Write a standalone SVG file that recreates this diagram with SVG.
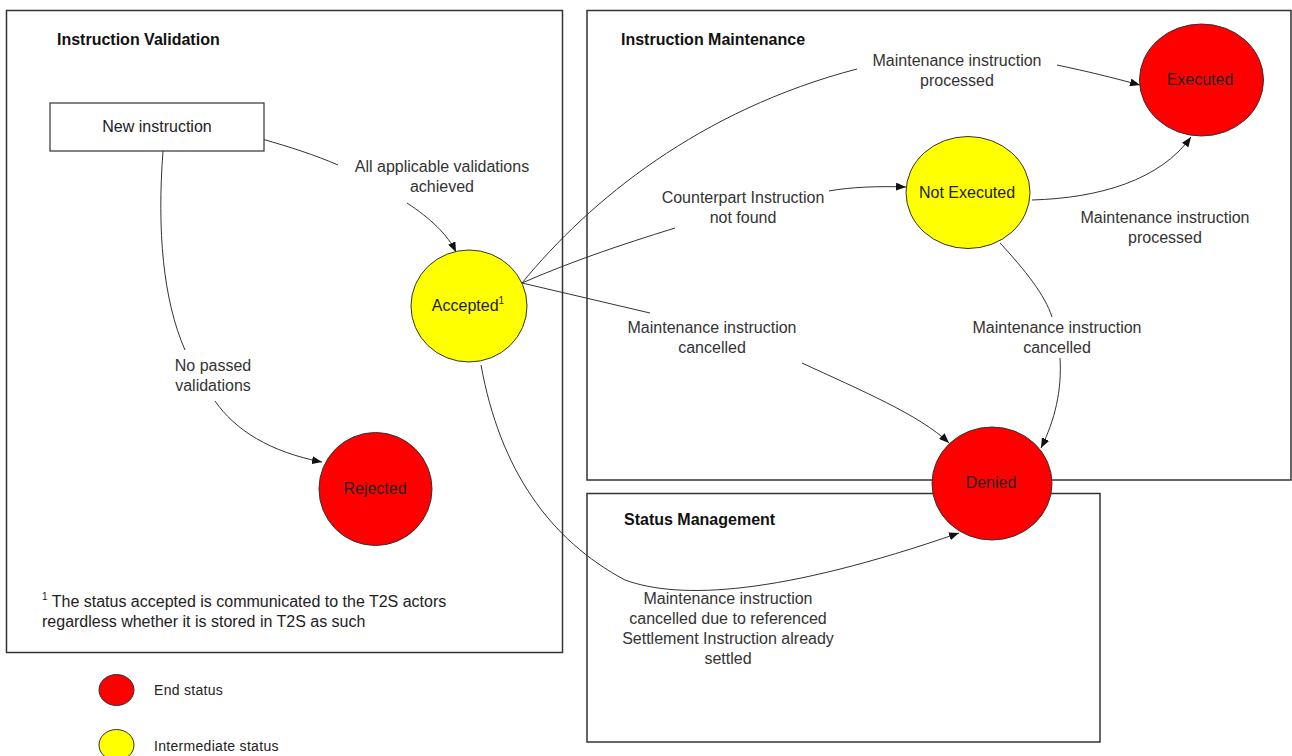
<svg xmlns="http://www.w3.org/2000/svg" width="1292" height="756" viewBox="0 0 1292 756">
<style>
.box{fill:#fff;stroke:#333;stroke-width:1.5}
.title{font-family:"Liberation Sans",Arial,sans-serif;font-size:16px;font-weight:bold;fill:#111}
.lbl{font-family:"Liberation Sans",Arial,sans-serif;font-size:16px;fill:#333;text-anchor:middle}
.ntext{font-family:"Liberation Sans",Arial,sans-serif;font-size:16px;fill:#222;text-anchor:middle}
.end{fill:#ff0000;stroke:#333;stroke-width:1}
.mid{fill:#ffff00;stroke:#333;stroke-width:1}
.rect{fill:#fff;stroke:#333;stroke-width:1.2}
.c{fill:none;stroke:#333;stroke-width:1}
.leg{font-family:"Liberation Sans",Arial,sans-serif;font-size:14px;fill:#222;letter-spacing:0.3px}
.foot{font-family:"Liberation Sans",Arial,sans-serif;font-size:16px;fill:#222}
</style>
<defs>
<marker id="arr" viewBox="0 0 10 8" refX="10" refY="4" markerWidth="10" markerHeight="8" markerUnits="userSpaceOnUse" orient="auto">
<path d="M0,0 L10,4 L0,8 z" fill="#111"/>
</marker>
</defs>

<g id="frame-validation">
<rect class="box" x="6.5" y="10.5" width="556" height="642"/>
<text class="title" x="57" y="45">Instruction Validation</text>
</g>
<g id="frame-maintenance">
<rect class="box" x="587" y="10.5" width="704" height="469.5"/>
<text class="title" x="621" y="45">Instruction Maintenance</text>
</g>
<g id="frame-status">
<rect class="box" x="587" y="493.5" width="513" height="248.5"/>
<text class="title" x="624" y="525">Status Management</text>
</g>

<g id="connectors">
<path class="c" d="M262,139 C290,147 315,155 338,165"/>
<path class="c" d="M407,203 C430,218 448,235 456,252" marker-end="url(#arr)"/>
<path class="c" d="M163,151 C157,230 163,300 185,350"/>
<path class="c" d="M215,401 C235,430 270,452 322,462" marker-end="url(#arr)"/>
<path class="c" d="M522,283 C590,200 700,110 857,69"/>
<path class="c" d="M1057,65 C1090,72 1110,77 1140,85" marker-end="url(#arr)"/>
<path class="c" d="M522,283 C570,262 620,245 675,228"/>
<path class="c" d="M829,191 C850,187 880,186 906,187" marker-end="url(#arr)"/>
<path class="c" d="M1032,200 C1100,198 1160,180 1191,137" marker-end="url(#arr)"/>
<path class="c" d="M522,283 L650,313"/>
<path class="c" d="M802,363 C860,390 920,415 949,443" marker-end="url(#arr)"/>
<path class="c" d="M1000,243 C1025,270 1045,295 1052,317"/>
<path class="c" d="M1060,358 C1062,390 1055,420 1041,448" marker-end="url(#arr)"/>
<path class="c" d="M481,365 C500,470 550,540 625,580 C680,600 780,595 959,533" marker-end="url(#arr)"/>
</g>

<g id="labels">
<text class="lbl" x="442" y="172">All applicable validations</text>
<text class="lbl" x="442" y="192">achieved</text>
<text class="lbl" x="213" y="370.5">No passed</text>
<text class="lbl" x="213" y="390.5">validations</text>
<text class="lbl" x="957" y="65.5">Maintenance instruction</text>
<text class="lbl" x="957" y="85.5">processed</text>
<text class="lbl" x="743" y="202.5">Counterpart Instruction</text>
<text class="lbl" x="743" y="222.5">not found</text>
<text class="lbl" x="1165" y="222.5">Maintenance instruction</text>
<text class="lbl" x="1165" y="242.5">processed</text>
<text class="lbl" x="712" y="333">Maintenance instruction</text>
<text class="lbl" x="712" y="353">cancelled</text>
<text class="lbl" x="1057" y="332.5">Maintenance instruction</text>
<text class="lbl" x="1057" y="352.5">cancelled</text>
<text class="lbl" x="728" y="603.5">Maintenance instruction</text>
<text class="lbl" x="728" y="623.5">cancelled due to referenced</text>
<text class="lbl" x="728" y="643.5">Settlement Instruction already</text>
<text class="lbl" x="728" y="663.5">settled</text>
</g>

<g id="node-new">
<rect class="rect" x="50" y="103" width="214" height="48"/>
<text class="ntext" x="157" y="131.5">New instruction</text>
</g>
<g id="node-accepted">
<ellipse class="mid" cx="469" cy="306" rx="58" ry="56"/>
<text class="ntext" x="468" y="310.5">Accepted<tspan font-size="10" dy="-7">1</tspan></text>
</g>
<g id="node-rejected">
<ellipse class="end" cx="375.5" cy="489" rx="56.5" ry="56.5"/>
<text class="ntext" x="375" y="493.5">Rejected</text>
</g>
<g id="node-executed">
<ellipse class="end" cx="1201.5" cy="80" rx="62" ry="56"/>
<text class="ntext" x="1200" y="84.5">Executed</text>
</g>
<g id="node-notexecuted">
<ellipse class="mid" cx="968" cy="192.5" rx="62" ry="56"/>
<text class="ntext" x="967" y="197.5">Not Executed</text>
</g>
<g id="node-denied">
<ellipse class="end" cx="992" cy="483.5" rx="60" ry="56.5"/>
<text class="ntext" x="991" y="488">Denied</text>
</g>

<g id="footnote">
<text class="foot" x="42" y="606.5"><tspan font-size="10" dy="-7">1</tspan><tspan dy="7"> The status accepted is communicated to the T2S actors</tspan></text>
<text class="foot" x="42" y="626.5">regardless whether it is stored in T2S as such</text>
</g>

<g id="legend">
<ellipse class="end" cx="116.5" cy="690" rx="17.5" ry="15.5"/>
<text class="leg" x="154" y="695">End status</text>
<ellipse class="mid" cx="116.5" cy="745" rx="17.5" ry="15.5"/>
<text class="leg" x="154" y="751">Intermediate status</text>
</g>
</svg>
